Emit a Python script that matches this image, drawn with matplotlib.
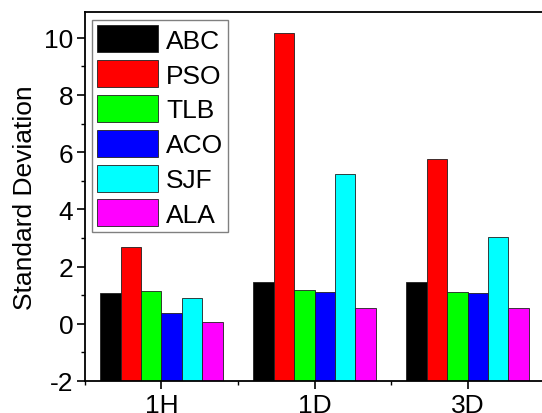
import matplotlib
matplotlib.use("Agg")
import matplotlib.pyplot as plt
import numpy as np
from matplotlib.ticker import MultipleLocator, FixedLocator

plt.rcParams['font.family'] = ['Liberation Sans', 'DejaVu Sans']
plt.rcParams['axes.unicode_minus'] = False

groups = ["1H", "1D", "3D"]
methods = ["ABC", "PSO", "TLB", "ACO", "SJF", "ALA"]
colors = ["#000000", "#ff0000", "#00ff00", "#0000ff", "#00ffff", "#ff00ff"]

abc = [1.09, 1.46, 1.46]
pso = [2.69, 10.16, 5.75]
tlb = [1.13, 1.18, 1.10]
aco = [0.37, 1.11, 1.08]
sjf = [0.91, 5.22, 3.04]
ala = [0.08, 0.55, 0.54]
series = [abc, pso, tlb, aco, sjf, ala]

ymin, ymax = -2, 10.9

fig = plt.figure(figsize=(5.42, 4.14), dpi=100)
ax = fig.add_axes([0.1568, 0.0773, 0.847, 0.8913])

x = np.arange(1, len(groups) + 1)
w = 0.8 / len(methods)
for i, (name, vals, c) in enumerate(zip(methods, series, colors)):
    vals = np.array(vals)
    ax.bar(x + (i - 2.5) * w, vals - ymin, width=w, bottom=ymin,
           color=c, edgecolor="#202020", linewidth=0.6, label=name)

ax.set_xlim(0.5, 3.5)
ax.set_ylim(ymin, ymax)
ax.set_xticks(x)
ax.set_xticklabels(groups)
ax.xaxis.set_minor_locator(FixedLocator([0.5, 1.5, 2.5, 3.5]))
ax.yaxis.set_major_locator(MultipleLocator(2))
ax.yaxis.set_minor_locator(MultipleLocator(1))
ax.tick_params(axis="both", which="major", labelsize=19, direction="out",
               length=5.5, width=1.2, pad=3)
ax.tick_params(axis="both", which="minor", direction="out", length=3, width=1.0)
ax.set_ylabel("Standard Deviation", fontsize=19, labelpad=5)
for s in ax.spines.values():
    s.set_linewidth(1.3)

fig.legend(loc="upper left", bbox_to_anchor=(92 / 542, 1 - 21 / 414),
           fontsize=19, handlelength=2.3, handleheight=1.2, labelspacing=0.28,
           borderpad=0.2, handletextpad=0.3, borderaxespad=0,
           fancybox=False, edgecolor="#808080", framealpha=1)

fig.savefig("out.png", dpi=100)
